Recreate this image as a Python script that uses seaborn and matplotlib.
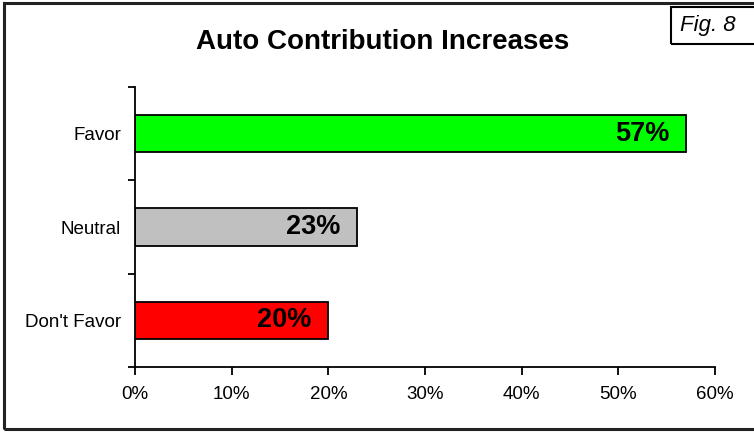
import matplotlib
matplotlib.use("Agg")
import matplotlib.pyplot as plt
import seaborn as sns
import numpy as np
from matplotlib.patches import Rectangle
from matplotlib.ticker import FixedLocator, FuncFormatter

# Survey responses
categories = ["Favor", "Neutral", "Don't Favor"]
values = [57, 23, 20]
bar_colors = ["#00FF00", "#C0C0C0", "#FF0000"]
x_ticks = [0, 10, 20, 30, 40, 50, 60]
title = "Auto Contribution Increases"
fig_tag = "Fig. 8"

sns.set_theme(style="white")
plt.rcParams["font.family"] = ["Liberation Sans", "DejaVu Sans"]

W, H = 754, 432
fig = plt.figure(figsize=(W / 100, H / 100), dpi=100)
ax = fig.add_axes([135 / W, 1 - 367 / H, (715 - 135) / W, (367 - 87) / H])

sns.barplot(x=values, y=categories, hue=categories, palette=bar_colors,
            saturation=1, orient="h", width=0.4, edgecolor="black",
            linewidth=1.3, legend=False, ax=ax)

ax.set_xlim(0, 60)
ax.set_ylim(2.5, -0.5)
ax.set_xlabel("")
ax.set_ylabel("")

# x axis: percent ticks pointing down
ax.xaxis.set_major_locator(FixedLocator(x_ticks))
ax.xaxis.set_major_formatter(FuncFormatter(lambda v, p: f"{int(v)}%"))
ax.tick_params(axis="x", which="major", bottom=True, direction="out",
               length=6, width=1.3, color="black", labelsize=13.5,
               labelcolor="black", pad=8)

# y axis: labels centred on bars, tick marks on the category boundaries
ax.set_yticks(range(len(categories)))
ax.set_yticklabels(categories)
ax.tick_params(axis="y", which="major", left=False, labelsize=13.5,
               labelcolor="black", pad=4)
ax.yaxis.set_minor_locator(FixedLocator(np.arange(-0.5, len(categories), 1.0)))
ax.tick_params(axis="y", which="minor", left=True, direction="out",
               length=5, width=1.3, color="black")

for side in ["top", "right"]:
    ax.spines[side].set_visible(False)
for side in ["left", "bottom"]:
    ax.spines[side].set_color("black")
    ax.spines[side].set_linewidth(1.3)
ax.grid(False)

# value labels inside the bar ends
for i, v in enumerate(values):
    ax.annotate(f"{v}%", xy=(v, i), xytext=(-17, 0), textcoords="offset pixels",
                ha="right", va="center", fontsize=19.5, fontweight="bold",
                color="black")

fig.text(383 / W, 1 - 42 / H, title, ha="center", va="center",
         fontsize=20, fontweight="bold", color="black")

# outer frame
fig.patches.append(Rectangle((4 / W, 3 / H), (W + 10) / W, (H - 6) / H,
                             transform=fig.transFigure, fill=False,
                             edgecolor="#222222", linewidth=2.2))
# figure tag box
fig.patches.append(Rectangle((671 / W, 1 - 44 / H), 90 / W, 37 / H,
                             transform=fig.transFigure, fill=False,
                             edgecolor="black", linewidth=1.5))
fig.text(708 / W, 1 - 25 / H, fig_tag, ha="center", va="center",
         fontsize=16, fontstyle="italic", color="black")

fig.savefig("out.png", dpi=100, facecolor="white")
